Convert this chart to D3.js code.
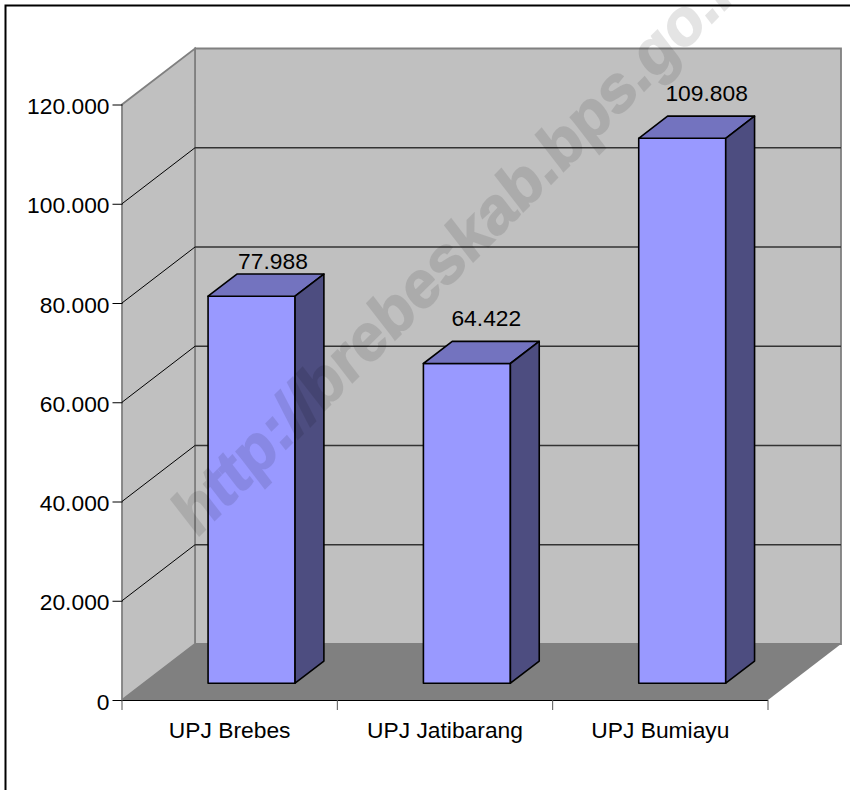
<!DOCTYPE html>
<html>
<head>
<meta charset="utf-8">
<script src="https://d3js.org/d3.v7.min.js"></script>
<style>
  html, body { margin: 0; padding: 0; background: #fff; }
  text { font-family: "Liberation Sans", Arial, sans-serif; fill: #000; }
</style>
</head>
<body>
<div id="chart"></div>
<script>
var categories = ['UPJ Brebes', 'UPJ Jatibarang', 'UPJ Bumiayu'];
var values = [77988, 64422, 109808];
var valueLabels = ['77.988', '64.422', '109.808'];
var yTicks = [0, 20000, 40000, 60000, 80000, 100000, 120000];
var yTickLabels = ['0', '20.000', '40.000', '60.000', '80.000', '100.000', '120.000'];
var watermark = 'http://brebeskab.bps.go.id';

var width = 850, height = 790, fontSize = 22.8;

var svg = d3.select('#chart').append('svg')
  .attr('width', width)
  .attr('height', height)
  .style('display', 'block');

// Front plane scales
var x = d3.scaleBand().domain(categories).range([122, 768]).paddingInner(0.596).paddingOuter(0.298);
var y = d3.scaleLinear().domain([0, 120000]).range([700, 104.5]);

// Depth goes from front plane (0) to back wall (1)
var depthX = d3.scaleLinear().domain([0, 1]).range([0, 73]);
var depthY = d3.scaleLinear().domain([0, 1]).range([0, -56]);

function pt(px, py, z) {
  return [px + depthX(z), py + depthY(z)];
}
function poly(points) {
  return 'M' + points.map(function(p) { return p.join(','); }).join('L') + 'Z';
}

var x0 = x.range()[0], x1 = x.range()[1],
    yBottom = y(0), yTop = y(120000);

// Outer frame, runs off the right and bottom of the picture
svg.append('rect')
  .attr('x', 5.5).attr('y', 5.5)
  .attr('width', width + 20).attr('height', height + 20)
  .attr('fill', '#fff')
  .attr('stroke', '#000')
  .attr('stroke-width', 2);

// Walls and floor
svg.append('path')
  .attr('d', poly([pt(x0, yBottom, 1), pt(x1, yBottom, 1), pt(x1, yTop, 1), pt(x0, yTop, 1)]))
  .attr('fill', '#c0c0c0').attr('stroke', '#808080').attr('stroke-width', 1.8);
svg.append('path')
  .attr('d', poly([pt(x0, yBottom, 0), pt(x0, yBottom, 1), pt(x0, yTop, 1), pt(x0, yTop, 0)]))
  .attr('fill', '#c0c0c0').attr('stroke', '#808080').attr('stroke-width', 1.8);
svg.append('path')
  .attr('d', poly([pt(x0, yBottom, 0), pt(x1, yBottom, 0), pt(x1, yBottom, 1), pt(x0, yBottom, 1)]))
  .attr('fill', '#808080').attr('stroke', 'none');

// Gridlines on side and back wall
var gridTicks = yTicks.filter(function(d) { return d > 0 && d < 120000; });
svg.selectAll('.grid-back')
  .data(gridTicks)
  .enter().append('line')
    .attr('class', 'grid-back')
    .attr('x1', function(d) { return pt(x0, y(d), 1)[0]; })
    .attr('y1', function(d) { return pt(x0, y(d), 1)[1]; })
    .attr('x2', function(d) { return pt(x1, y(d), 1)[0]; })
    .attr('y2', function(d) { return pt(x1, y(d), 1)[1]; })
    .attr('stroke', '#333')
    .attr('stroke-width', 1.3);
svg.selectAll('.grid-side')
  .data(gridTicks)
  .enter().append('line')
    .attr('class', 'grid-side')
    .attr('x1', x0)
    .attr('y1', function(d) { return y(d); })
    .attr('x2', function(d) { return pt(x0, y(d), 1)[0]; })
    .attr('y2', function(d) { return pt(x0, y(d), 1)[1]; })
    .attr('stroke', '#000')
    .attr('stroke-width', 1);

// Bars as boxes
var zFront = 0.3, zBack = 0.695;
var bars = svg.selectAll('.bar')
  .data(categories)
  .enter().append('g')
    .attr('class', 'bar');

function barFace(color, corners) {
  bars.append('path')
    .attr('d', function(d, i) {
      var l = x(d), r = l + x.bandwidth(), t = y(values[i]);
      return poly(corners(l, r, t));
    })
    .attr('fill', color)
    .attr('stroke', '#000')
    .attr('stroke-width', 1.6)
    .attr('stroke-linejoin', 'round');
}
barFace('#9999ff', function(l, r, t) {
  return [pt(l, yBottom, zFront), pt(r, yBottom, zFront), pt(r, t, zFront), pt(l, t, zFront)];
});
barFace('#7373bf', function(l, r, t) {
  return [pt(l, t, zFront), pt(r, t, zFront), pt(r, t, zBack), pt(l, t, zBack)];
});
barFace('#4d4d80', function(l, r, t) {
  return [pt(r, yBottom, zFront), pt(r, yBottom, zBack), pt(r, t, zBack), pt(r, t, zFront)];
});

// Labels were placed by hand in the original, so each one has its own nudge
var labelNudgeX = [7, 5, 10];
var labelNudgeY = [-5, -15, -15];
svg.selectAll('.value-label')
  .data(categories)
  .enter().append('text')
    .attr('class', 'value-label')
    .attr('x', function(d, i) {
      var l = pt(x(d), 0, zFront)[0], r = pt(x(d) + x.bandwidth(), 0, zBack)[0];
      return (l + r) / 2 + labelNudgeX[i];
    })
    .attr('y', function(d, i) { return y(values[i]) + depthY(zBack) + labelNudgeY[i]; })
    .attr('text-anchor', 'middle')
    .attr('font-size', fontSize)
    .text(function(d, i) { return valueLabels[i]; });

// Axes
var yAxis = d3.axisLeft(y)
  .tickValues(yTicks)
  .tickSize(10)
  .tickPadding(3)
  .tickFormat(function(d, i) { return yTickLabels[i]; });
var gy = svg.append('g').attr('transform', 'translate(122.5,0)').call(yAxis);
gy.select('.domain').remove();
gy.selectAll('text').attr('font-size', fontSize).attr('font-family', null).attr('dy', '0.4em');

var xAxis = d3.axisBottom(x).tickSize(0).tickPadding(22);
var gx = svg.append('g').attr('transform', 'translate(0,' + yBottom + ')').call(xAxis);
gx.select('.domain').attr('stroke', '#000').attr('d', 'M' + x0 + ',0.5H' + x1);
gx.selectAll('text').attr('font-size', fontSize).attr('font-family', null);

// Category boundary ticks
var boundaries = [x0].concat(categories.map(function(d) { return x(d) + x.bandwidth() + x.step() * x.paddingInner() / 2; }));
gx.selectAll('.boundary')
  .data(boundaries)
  .enter().append('line')
    .attr('class', 'boundary')
    .attr('x1', function(d) { return d; }).attr('x2', function(d) { return d; })
    .attr('y1', 0).attr('y2', 10)
    .attr('stroke', '#555');

// Watermark on top of everything, runs off the top edge like the original.
// The letters lean a little against the 45 degree baseline, hence the matrix
svg.append('text')
  .attr('transform', 'matrix(0.707,-0.707,0.61,0.79,196,539)')
  .attr('font-size', 64)
  .attr('font-weight', 'bold')
  .style('fill', '#000')
  .attr('stroke', '#000')
  .attr('stroke-width', 1.6)
  .attr('opacity', 0.1)
  .text(watermark);
</script>
</body>
</html>
